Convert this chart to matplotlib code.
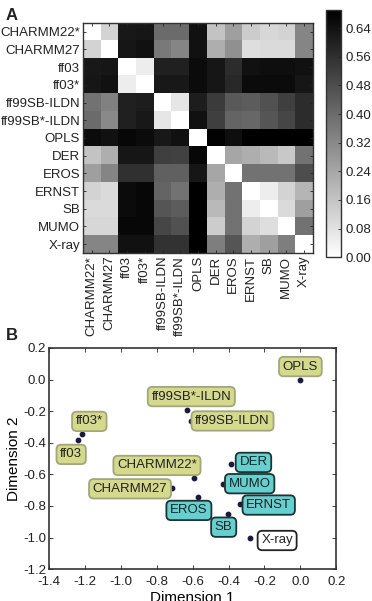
import numpy as np
import matplotlib
matplotlib.use('Agg')
import matplotlib.pyplot as plt

plt.rcParams['font.family'] = ['Liberation Sans', 'DejaVu Sans']
plt.rcParams['text.color'] = '#222222'
plt.rcParams['xtick.color'] = '#222222'
plt.rcParams['ytick.color'] = '#222222'

# names of force fields / ensembles
names = ['CHARMM22*', 'CHARMM27', 'ff03', 'ff03*', 'ff99SB-ILDN', 'ff99SB*-ILDN',
         'OPLS', 'DER', 'EROS', 'ERNST', 'SB', 'MUMO', 'X-ray']

# pairwise distance matrix (panel A)
dist = np.array([
    [0.00, 0.12, 0.62, 0.63, 0.40, 0.40, 0.64, 0.16, 0.26, 0.14, 0.11, 0.12, 0.33],
    [0.12, 0.00, 0.63, 0.64, 0.36, 0.33, 0.64, 0.22, 0.30, 0.09, 0.10, 0.10, 0.33],
    [0.62, 0.63, 0.00, 0.05, 0.60, 0.60, 0.66, 0.63, 0.57, 0.64, 0.65, 0.65, 0.64],
    [0.63, 0.64, 0.05, 0.00, 0.62, 0.62, 0.66, 0.63, 0.58, 0.66, 0.66, 0.66, 0.63],
    [0.38, 0.34, 0.60, 0.61, 0.00, 0.07, 0.61, 0.53, 0.45, 0.44, 0.47, 0.52, 0.57],
    [0.40, 0.32, 0.60, 0.62, 0.07, 0.00, 0.64, 0.52, 0.42, 0.41, 0.46, 0.50, 0.57],
    [0.66, 0.64, 0.67, 0.66, 0.62, 0.64, 0.00, 0.68, 0.65, 0.69, 0.69, 0.69, 0.69],
    [0.16, 0.22, 0.63, 0.63, 0.52, 0.51, 0.67, 0.00, 0.24, 0.22, 0.19, 0.15, 0.38],
    [0.26, 0.33, 0.56, 0.56, 0.43, 0.43, 0.63, 0.24, 0.00, 0.38, 0.38, 0.38, 0.48],
    [0.12, 0.10, 0.66, 0.67, 0.42, 0.38, 0.69, 0.22, 0.38, 0.00, 0.05, 0.12, 0.20],
    [0.10, 0.10, 0.66, 0.67, 0.46, 0.44, 0.69, 0.19, 0.38, 0.05, 0.00, 0.10, 0.26],
    [0.11, 0.11, 0.67, 0.67, 0.50, 0.47, 0.69, 0.14, 0.38, 0.12, 0.09, 0.00, 0.38],
    [0.33, 0.33, 0.64, 0.64, 0.55, 0.55, 0.69, 0.35, 0.46, 0.22, 0.26, 0.35, 0.00],
])
cbar_ticks = [0.00, 0.08, 0.16, 0.24, 0.32, 0.40, 0.48, 0.56, 0.64]

# MDS coordinates (panel B)
dim1 = [-0.593, -0.715, -1.238, -1.215, -0.612, -0.630, 0.000,
        -0.384, -0.571, -0.338, -0.405, -0.433, -0.280]
dim2 = [-0.626, -0.685, -0.385, -0.347, -0.262, -0.190, 0.000,
        -0.537, -0.746, -0.788, -0.852, -0.659, -1.006]
kind = ['ff', 'ff', 'ff', 'ff', 'ff', 'ff', 'ff',
        'exp', 'exp', 'exp', 'exp', 'exp', 'xray']
xticks = [-1.4, -1.2, -1.0, -0.8, -0.6, -0.4, -0.2, 0.0, 0.2]
yticks = [-1.2, -1.0, -0.8, -0.6, -0.4, -0.2, 0.0, 0.2]

# label offsets in pixels (dx, dy)
offsets = {'CHARMM22*': (-37, 13), 'CHARMM27': (-42, -1), 'ff03': (-7, -14),
           'ff03*': (7, 13), 'ff99SB-ILDN': (42, 0), 'ff99SB*-ILDN': (4, 13),
           'OPLS': (0, 13), 'DER': (22, 2), 'EROS': (-9, -13), 'ERNST': (29, -1),
           'SB': (-4, -13), 'MUMO': (27, 0), 'X-ray': (27, -2)}
box_style = {'ff': ('#d5d98c', '#a3a67a'),
             'exp': ('#66cfcf', '#1e3434'),
             'xray': ('white', '#222222')}

fig = plt.figure(figsize=(3.72, 6.01), dpi=100)

# ---- panel A: heat map
ax1 = fig.add_axes([0.223, 0.579, 0.618, 0.383])
im = ax1.imshow(dist, cmap='gray_r', vmin=0, vmax=0.69, interpolation='nearest', aspect='auto')
n = len(names)
ax1.set_xticks(range(n))
ax1.set_yticks(range(n))
ax1.set_xticklabels(names, rotation=90, fontsize=9.5)
ax1.set_yticklabels(names, fontsize=9.5)
ax1.tick_params(direction='in', length=2, width=0.6, top=True, right=True, pad=2)
for s in ax1.spines.values():
    s.set_color('#333333')
    s.set_linewidth(1.0)

cax = fig.add_axes([0.876, 0.572, 0.040, 0.411])
cb = fig.colorbar(im, cax=cax, ticks=cbar_ticks)
cb.ax.set_yticklabels(['%.2f' % t for t in cbar_ticks], fontsize=9.5)
cb.ax.tick_params(direction='in', length=2, width=0.6)
cb.outline.set_linewidth(1.0)
cb.outline.set_edgecolor('#333333')

fig.text(0.015, 0.975, 'A', fontsize=12, fontweight='bold', va='center')
fig.text(0.015, 0.442, 'B', fontsize=12, fontweight='bold', va='center')

# ---- panel B: MDS scatter
ax2 = fig.add_axes([0.132, 0.053, 0.772, 0.368])
ax2.scatter(dim1, dim2, s=10, color='#1a1a40', zorder=3)
for name, x, y, k in zip(names, dim1, dim2, kind):
    fc, ec = box_style[k]
    dx, dy = offsets[name]
    ax2.annotate(name, (x, y), xytext=(dx, dy), textcoords='offset pixels',
                 ha='center', va='center', fontsize=9.5, zorder=4,
                 bbox=dict(boxstyle='round,pad=0.28,rounding_size=0.35',
                           fc=fc, ec=ec, lw=1.3))
ax2.set_xlim(-1.4, 0.2)
ax2.set_ylim(-1.2, 0.2)
ax2.set_xticks(xticks)
ax2.set_yticks(yticks)
ax2.set_xticklabels(['%.1f' % v for v in xticks], fontsize=9.5)
ax2.set_yticklabels(['%.1f' % v for v in yticks], fontsize=9.5)
ax2.tick_params(direction='in', length=3, width=0.6, top=True, right=True, pad=2)
ax2.tick_params(axis='x', pad=5)
ax2.set_xlabel('Dimension 1', fontsize=11, labelpad=2)
ax2.set_ylabel('Dimension 2', fontsize=11, labelpad=2)
for s in ax2.spines.values():
    s.set_color('#333333')
    s.set_linewidth(1.2)

fig.savefig('out.png', dpi=100)
